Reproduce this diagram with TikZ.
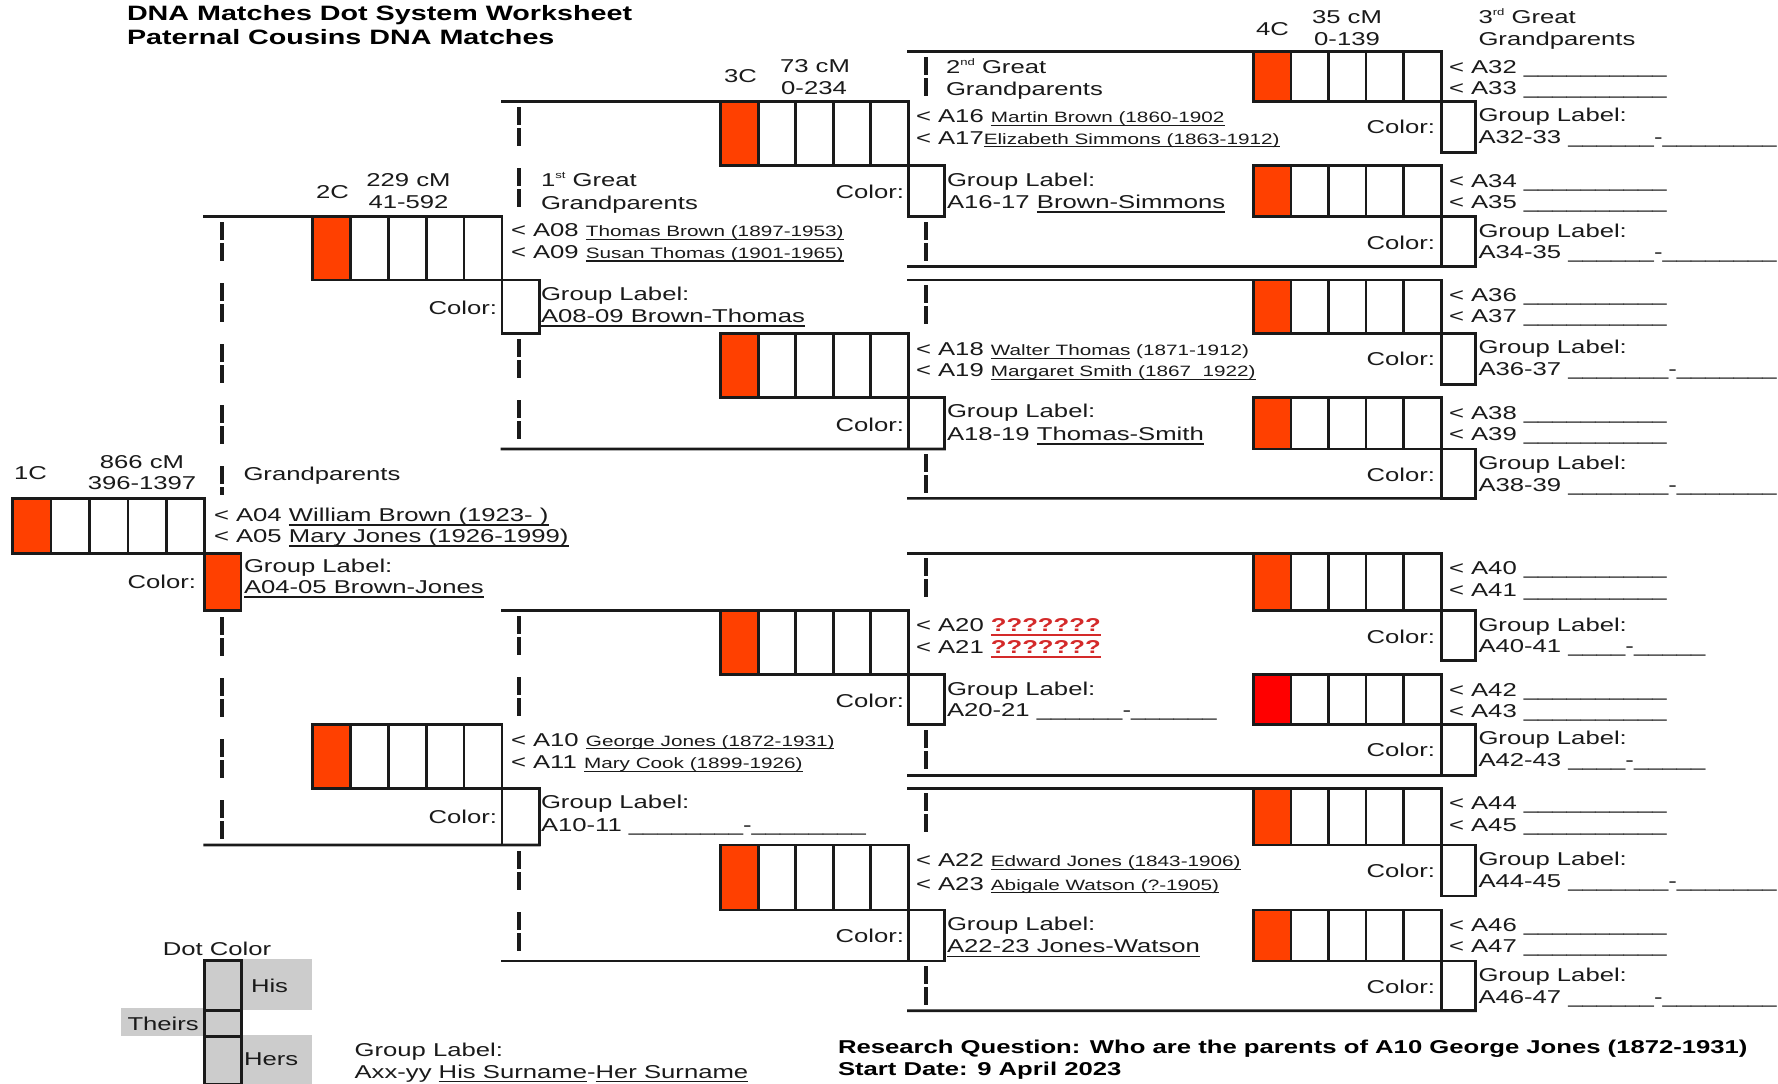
\documentclass[tikz,border=0pt]{standalone}
\usepackage{fontspec}
\setmainfont{Liberation Sans}[FakeStretch=1.38]
\definecolor{ink}{HTML}{1A1A1A}
\definecolor{dotorange}{HTML}{FF4000}
\definecolor{dotred}{HTML}{FF0000}
\definecolor{qred}{HTML}{D42A2A}
\definecolor{legendgray}{HTML}{CCCCCC}
\newcommand\fsA{\fontsize{18.6pt}{22pt}\selectfont}
\newcommand\fsB{\fontsize{15pt}{18pt}\selectfont}
\newcommand\fsT{\fontsize{20.8pt}{24pt}\selectfont\bfseries}
\newcommand\undl[1]{{\setbox0=\hbox{#1}\rlap{\vrule height -0.15em depth 0.225em width \wd0}\box0}}
\newcommand\supx[1]{\raisebox{0.42em}{\fontsize{9.5pt}{10pt}\selectfont #1}}
% row of five dot cells: name, x1, y1, x2, y2, fill of first cell
\newcommand\dotcells[6]{%
  \pgfmathsetmacro\cw{(#4-#2)/5}%
  \pgfmathsetmacro\ch{#5-#3}%
  \pgfmathsetmacro\cyy{(#3+#5)/2}%
  \foreach \k in {1,...,4}{%
    \pgfmathsetmacro\cxx{#2+(\k+0.5)*\cw}%
    \node[cell,minimum width=\cw pt,minimum height=\ch pt] (#1-\k) at (\cxx,\cyy) {};
  }%
  \pgfmathsetmacro\cxx{#2+0.5*\cw}%
  \node[cell,fill=#6,minimum width=\cw pt,minimum height=\ch pt] (#1-0) at (\cxx,\cyy) {};
}
% colour box: name, x1, y1, y2, width, fill
\newcommand\colorcell[6]{%
  \pgfmathsetmacro\cxx{#2+#5/2}%
  \pgfmathsetmacro\cyy{(#3+#4)/2}%
  \pgfmathsetmacro\ch{#4-#3}%
  \node[cell,fill=#6,minimum width=#5pt,minimum height=\ch pt] (#1) at (\cxx,\cyy) {};
}
\begin{document}
\begin{tikzpicture}[x=1pt,y=-1pt,
  txt/.style={anchor=base west,inner sep=0pt,outer sep=0pt,font=\fsA,text=ink},
  txtr/.style={txt,anchor=base east},
  txtc/.style={txt,anchor=base},
  ttl/.style={txt,font=\fsT,text=black},
  cell/.style={draw=ink,line width=2.6pt,fill=white,inner sep=0pt,outer sep=0pt},
  bline/.style={draw=ink,line width=2.6pt,line cap=rect},
  dline/.style={draw=ink,line width=3.1pt,dash pattern=on 18pt off 3pt on 18pt off 22pt},
  legbox/.style={cell,fill=legendgray,line width=3pt}
]
\useasboundingbox (0,0) rectangle (1778,1084);
\clip (0,0) rectangle (1778,1084);
\fill[white] (0,0) rectangle (1778,1084);

% ---------- dashed bracket lines ----------
\coordinate (d1a) at (222,222);   \coordinate (d1b) at (222,495);
\coordinate (d1c) at (222,617);   \coordinate (d1d) at (222,842);
\coordinate (d2a) at (519,107);   \coordinate (d2b) at (519,214);
\coordinate (d2c) at (519,339);   \coordinate (d2d) at (519,446);
\coordinate (d2e) at (519,616);   \coordinate (d2f) at (519,721);
\coordinate (d2g) at (519,851);   \coordinate (d2h) at (519,958);
\coordinate (d3a) at (926,57);    \coordinate (d3b) at (926,99);
\coordinate (d3c) at (926,222);   \coordinate (d3d) at (926,264);
\coordinate (d3e) at (926,285);   \coordinate (d3f) at (926,331);
\coordinate (d3g) at (926,454);   \coordinate (d3h) at (926,496);
\coordinate (d3i) at (926,558);   \coordinate (d3j) at (926,608);
\coordinate (d3k) at (926,730);   \coordinate (d3l) at (926,773);
\coordinate (d3m) at (926,793);   \coordinate (d3n) at (926,843);
\coordinate (d3o) at (926,966);   \coordinate (d3p) at (926,1008);
\foreach \p/\q in {d1a/d1b,d1c/d1d,d2a/d2b,d2c/d2d,d2e/d2f,d2g/d2h,
  d3a/d3b,d3c/d3d,d3e/d3f,d3g/d3h,d3i/d3j,d3k/d3l,d3m/d3n,d3o/d3p}
  \draw[dline] (\p) -- (\q);

% ---------- rows of dot cells ----------
\dotcells{r1}{12.6}{498.3}{204.7}{553.3}{dotorange}
\colorcell{r1-c}{204.7}{553.3}{610.7}{36.3}{dotorange}
\dotcells{r2a}{312.5}{216.7}{502}{280}{dotorange}
\colorcell{r2a-c}{502}{280}{333.3}{37.3}{white}
\dotcells{r2b}{312.5}{724.3}{502}{788.3}{dotorange}
\colorcell{r2b-c}{502}{788.3}{845}{37.3}{white}
\dotcells{r3a}{720.7}{101.3}{908.3}{165.7}{dotorange}
\colorcell{r3a-c}{908.3}{165.7}{216.7}{36.2}{white}
\dotcells{r3b}{720.7}{333.3}{908.3}{397.7}{dotorange}
\colorcell{r3b-c}{908.3}{397.7}{449}{36.2}{white}
\dotcells{r3c}{720.7}{610.7}{908.3}{674.7}{dotorange}
\colorcell{r3c-c}{908.3}{674.7}{724.3}{36.2}{white}
\dotcells{r3d}{720.7}{845}{908.3}{910}{dotorange}
\colorcell{r3d-c}{908.3}{910}{961}{36.2}{white}

\foreach \ri/\rt/\rb/\rc/\rf/\na/\nb/\bl in {
  1/51.7/101.3/152.7/dotorange/32/33/{\_\_\_\_\_\_-\_\_\_\_\_\_\_\_},
  2/165.7/216.7/266.7/dotorange/34/35/{\_\_\_\_\_\_-\_\_\_\_\_\_\_\_},
  3/280/333.3/384.3/dotorange/36/37/{\_\_\_\_\_\_\_-\_\_\_\_\_\_\_},
  4/397.7/449/498.3/dotorange/38/39/{\_\_\_\_\_\_\_-\_\_\_\_\_\_\_},
  5/553.3/610.7/660.7/dotorange/40/41/{\_\_\_\_-\_\_\_\_\_},
  6/674.7/724.3/775.3/dotred/42/43/{\_\_\_\_-\_\_\_\_\_},
  7/788.3/845/896/dotorange/44/45/{\_\_\_\_\_\_\_-\_\_\_\_\_\_\_},
  8/910/961/1010.7/dotorange/46/47/{\_\_\_\_\_\_-\_\_\_\_\_\_\_\_}}{
  \dotcells{r4-\ri}{1253.4}{\rt}{1441.3}{\rb}{\rf}
  \colorcell{r4-\ri-c}{1441.3}{\rb}{\rc}{34.3}{white}
  \node[txt] (n4-\ri-a) at (1449,\rt+21.4) {< A\na\ \_\_\_\_\_\_\_\_\_\_};
  \node[txt] (n4-\ri-b) at (1449,\rt+42.7) {< A\nb\ \_\_\_\_\_\_\_\_\_\_};
  \node[txtr] (c4-\ri) at (1435,\rb+32.4) {Color:};
  \node[txt] (g4-\ri-a) at (1478.5,\rb+20.5) {Group Label:};
  \node[txt] (g4-\ri-b) at (1478.5,\rb+42) {A\na-\nb\ \bl};
}

% ---------- bracket lines ----------
\coordinate (g1t) at (204.7,216.7);  \coordinate (g1b) at (204.7,845);
\coordinate (g2at) at (502,101.3);   \coordinate (g2ab) at (502,449);
\coordinate (g2bt) at (502,610.7);   \coordinate (g2bb) at (502,961);
\coordinate (g3at) at (908.3,51.7);  \coordinate (g3ab) at (908.3,266.7);
\coordinate (g3bt) at (908.3,280);   \coordinate (g3bb) at (908.3,498.3);
\coordinate (g3ct) at (908.3,553.3); \coordinate (g3cb) at (908.3,775.3);
\coordinate (g3dt) at (908.3,788.3); \coordinate (g3db) at (908.3,1010.7);
\draw[bline] (g1t) -- (r2a-4.north east);
\draw[bline] (g1b) -- (r2b-c.south east);
\draw[bline] (g2at) -- (r3a-4.north east);
\draw[bline] (g2ab) -- (r3b-c.south east);
\draw[bline] (g2bt) -- (r3c-4.north east);
\draw[bline] (g2bb) -- (r3d-c.south east);
\draw[bline] (g3at) -- (r4-1-4.north east);
\draw[bline] (g3ab) -- (r4-2-c.south east);
\draw[bline] (g3bt) -- (r4-3-4.north east);
\draw[bline] (g3bb) -- (r4-4-c.south east);
\draw[bline] (g3ct) -- (r4-5-4.north east);
\draw[bline] (g3cb) -- (r4-6-c.south east);
\draw[bline] (g3dt) -- (r4-7-4.north east);
\draw[bline] (g3db) -- (r4-8-c.south east);

% ---------- titles ----------
\node[ttl] (title1) at (127,20.7) {DNA Matches Dot System Worksheet};
\node[ttl] (title2) at (127,44.5) {Paternal Cousins DNA Matches};

% ---------- generation 1 ----------
\node[txt] (l1c) at (14,479) {1C};
\node[txtc] (cm1a) at (142,468) {866 cM};
\node[txtc] (cm1b) at (142,489) {396-1397};
\node[txt] (gp1) at (243.5,480) {Grandparents};
\node[txt] (a04) at (214,521.5) {< A04 \undl{William Brown (1923- )}};
\node[txt] (a05) at (214,542.7) {< A05 \undl{Mary Jones (1926-1999)}};
\node[txtr] (c1) at (196,588.4) {Color:};
\node[txt] (gl1a) at (244,572) {Group Label:};
\node[txt] (gl1b) at (244,593.7) {\undl{A04-05 Brown-Jones}};

% ---------- generation 2 ----------
\node[txt] (l2c) at (316,198.4) {2C};
\node[txtc] (cm2a) at (408.5,186.7) {229 cM};
\node[txtc] (cm2b) at (408.5,208.4) {41-592};
\node[txt] (gp2a) at (541,186.7) {1\supx{st} Great};
\node[txt] (gp2b) at (541,209) {Grandparents};
\node[txt] (a08) at (511,236.5) {< A08 {\fsB\undl{Thomas Brown (1897-1953)}}};
\node[txt] (a09) at (511,258.2) {< A09 {\fsB\undl{Susan Thomas (1901-1965)}}};
\node[txtr] (c2a) at (497,314) {Color:};
\node[txt] (gl2aa) at (541,300.7) {Group Label:};
\node[txt] (gl2ab) at (541,322.7) {\undl{A08-09 Brown-Thomas}};
\node[txt] (a10) at (511,746) {< A10 {\fsB\undl{George Jones (1872-1931)}}};
\node[txt] (a11) at (511,768.4) {< A11 {\fsB\undl{Mary Cook (1899-1926)}}};
\node[txtr] (c2b) at (497,823.7) {Color:};
\node[txt] (gl2ba) at (541,808.4) {Group Label:};
\node[txt] (gl2bb) at (541,831.7) {A10-11 \_\_\_\_\_\_\_\_-\_\_\_\_\_\_\_\_};

% ---------- generation 3 ----------
\node[txt] (l3c) at (724,82.7) {3C};
\node[txtc] (cm3a) at (815,72.7) {73 cM};
\node[txtc] (cm3b) at (814,94) {0-234};
\node[txt] (gp3a) at (946,73.4) {2\supx{nd} Great};
\node[txt] (gp3b) at (946,95) {Grandparents};
\node[txt] (a16) at (916,122.7) {< A16 {\fsB\undl{Martin Brown (1860-1902}}};
\node[txt] (a17) at (916,144) {< A17{\fsB\undl{Elizabeth Simmons (1863-1912)}}};
\node[txtr] (c3a) at (904,198.4) {Color:};
\node[txt] (gl3aa) at (947,186) {Group Label:};
\node[txt] (gl3ab) at (947,208.4) {A16-17 \undl{Brown-Simmons}};
\node[txt] (a18) at (916,355.7) {< A18 {\fsB\undl{Walter Thomas} (1871-1912)}};
\node[txt] (a19) at (916,376.7) {< A19 {\fsB\undl{Margaret Smith (1867\ \ 1922)}}};
\node[txtr] (c3b) at (904,431) {Color:};
\node[txt] (gl3ba) at (947,417.4) {Group Label:};
\node[txt] (gl3bb) at (947,440.7) {A18-19 \undl{Thomas-Smith}};
\node[txt] (a20) at (916,631.7) {< A20 {\bfseries\color{qred}\undl{???????}}};
\node[txt] (a21) at (916,653.4) {< A21 {\bfseries\color{qred}\undl{???????}}};
\node[txtr] (c3c) at (904,707) {Color:};
\node[txt] (gl3ca) at (947,695) {Group Label:};
\node[txt] (gl3cb) at (947,716.7) {A20-21 \_\_\_\_\_\_-\_\_\_\_\_\_};
\node[txt] (a22) at (916,866.7) {< A22 {\fsB\undl{Edward Jones (1843-1906)}}};
\node[txt] (a23) at (916,890) {< A23 {\fsB\undl{Abigale Watson (?-1905)}}};
\node[txtr] (c3d) at (904,942) {Color:};
\node[txt] (gl3da) at (947,930.7) {Group Label:};
\node[txt] (gl3db) at (947,952.7) {\undl{A22-23 Jones-Watson}};

% ---------- generation 4 header ----------
\node[txt] (l4c) at (1256,35) {4C};
\node[txtc] (cm4a) at (1347,23.4) {35 cM};
\node[txtc] (cm4b) at (1347,45) {0-139};
\node[txt] (gp4a) at (1478.5,23.4) {3\supx{rd} Great};
\node[txt] (gp4b) at (1478.5,45) {Grandparents};

% ---------- legend ----------
\fill[legendgray] (241,959) rectangle (312,1010);
\fill[legendgray] (121,1008) rectangle (204,1036);
\fill[legendgray] (241,1035) rectangle (312,1084);
\node[legbox,minimum width=37pt,minimum height=50pt] (his) at (222.5,985) {};
\node[legbox,minimum width=37pt,minimum height=26pt] (theirs) at (222.5,1023) {};
\node[legbox,minimum width=37pt,minimum height=48pt] (hers) at (222.5,1060) {};
\node[txtc] (dotcol) at (217,955) {Dot Color};
\node[txt] (hislbl) at (251,992.7) {His};
\node[txt] (theirslbl) at (127.5,1030.7) {Theirs};
\node[txt] (herslbl) at (244,1065.7) {Hers};
\node[txt] (glleg1) at (354.6,1056.7) {Group Label:};
\node[txt] (glleg2) at (354.6,1078) {Axx-yy \undl{His Surname}-\undl{Her Surname}};

% ---------- research question ----------
\node[txt,font=\fsA\bfseries,text=black] (rq1) at (838,1053.5) {Research Question: Who are the parents of A10 George Jones (1872-1931)};
\node[txt,font=\fsA\bfseries,text=black] (rq2) at (838,1075.5) {Start Date: 9 April 2023};
\end{tikzpicture}
\end{document}
